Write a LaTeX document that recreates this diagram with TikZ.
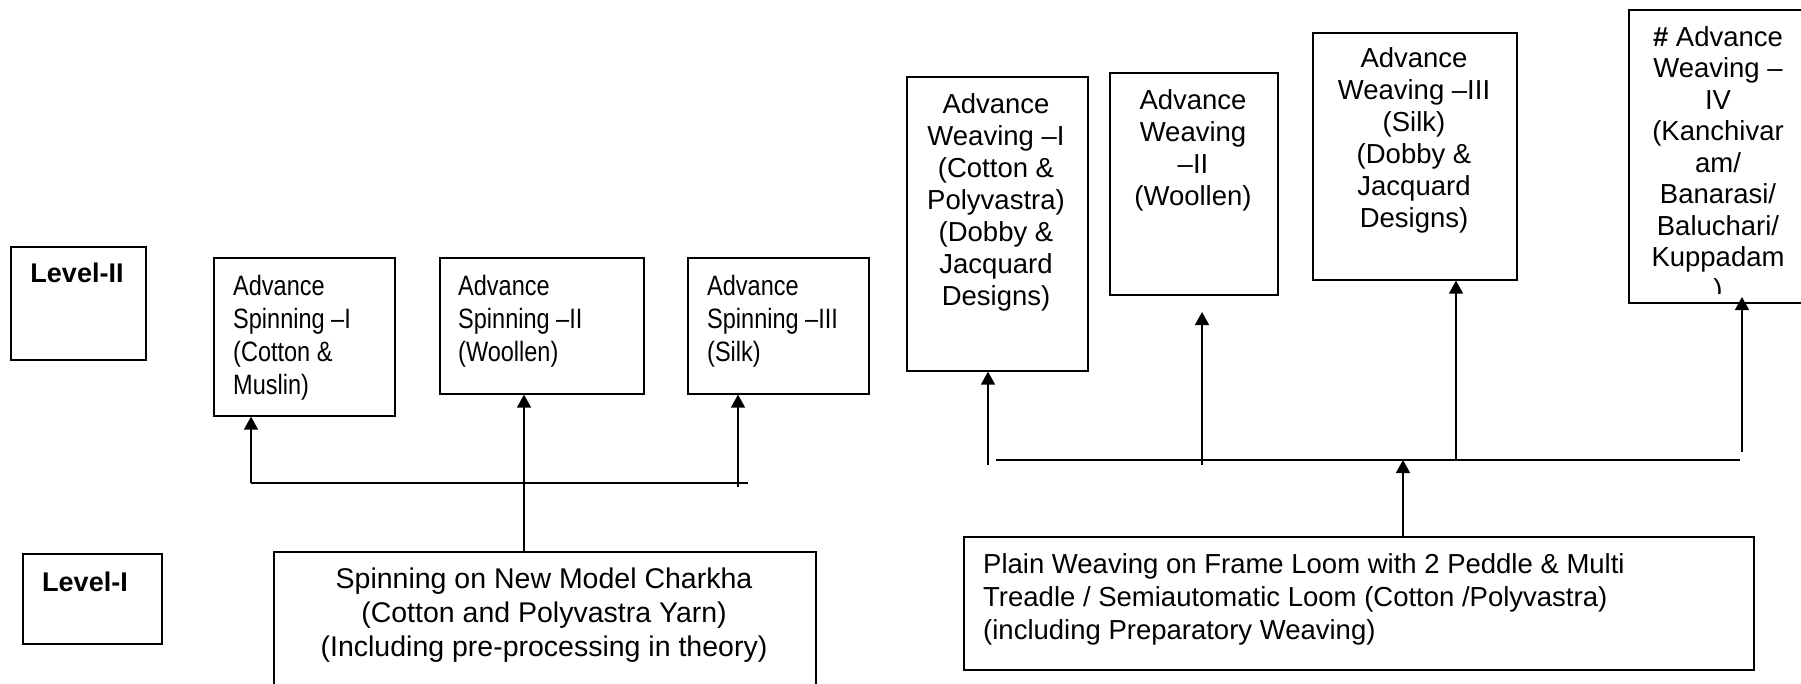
\documentclass[tikz,border=0pt]{standalone}
\usepackage{fontspec}
\setmainfont{Liberation Sans}
\newfontfamily\narrowfont{Liberation Sans}[FakeStretch=0.84]
\usetikzlibrary{arrows.meta, positioning}

\tikzset{
    box/.style={draw, line width=1.6pt, inner sep=0pt, anchor=north west},
    boxtext/.style={inner sep=0pt, font=\fontsize{27.5}{32}\selectfont},
    narrowtext/.style={inner sep=0pt, anchor=north west, align=left, font=\fontsize{28}{33}\selectfont\narrowfont},
    leveltext/.style={inner sep=0pt, anchor=north, font=\fontsize{27}{33}\selectfont\bfseries},
    arr/.style={line width=1.5pt, -{Triangle[length=13pt, width=14pt]}},
    bus/.style={line width=1.5pt},
}

\begin{document}
\begin{tikzpicture}[x=1pt, y=-1pt]
    \useasboundingbox (0,0) rectangle (1801,683);
    \clip (0,0) rectangle (1801,683);

    % Level boxes
    \node[box, minimum width=135pt, minimum height=113pt] (lvtwo) at (10,246) {};
    \node[leveltext] (lvtwotext) at (77,263) {Level-II};
    \node[box, minimum width=139pt, minimum height=90pt] (lvone) at (22,553) {};
    \node[leveltext] (lvonetext) at (85,572) {Level-I};

    % Spinning boxes
    \node[box, minimum width=181pt, minimum height=158pt] (sp1) at (213,257) {};
    \node[narrowtext] (sp1text) at (233,275) {Advance\\Spinning –I\\(Cotton \&\\Muslin)};
    \node[box, minimum width=204pt, minimum height=136pt] (sp2) at (439,257) {};
    \node[narrowtext] (sp2text) at (458,275) {Advance\\Spinning –II\\(Woollen)};
    \node[box, minimum width=181pt, minimum height=136pt] (sp3) at (687,257) {};
    \node[narrowtext] (sp3text) at (707,275) {Advance\\Spinning –III\\(Silk)};
    \node[box, minimum width=542pt, minimum height=160pt] (spmain) at (273,551) {};
    \node[boxtext, anchor=north, align=center, font=\fontsize{28.5}{34}\selectfont] (spmaintext) at (544,568)
        {Spinning on New Model Charkha\\(Cotton and Polyvastra Yarn)\\(Including pre-processing in theory)};

    % Spinning connectors
    \coordinate (spbusL) at (251,483);
    \coordinate (spbusR) at (748,483);
    \coordinate (sp2foot) at (524,553);
    \coordinate (sp3foot) at (738,487);
    \draw[bus] (spbusL) -- (spbusR);
    \draw[arr] (spbusL) -- (spbusL |- sp1.south);
    \draw[arr] (spmain.north -| sp2foot) -- (sp2foot |- sp2.south);
    \draw[arr] (sp3foot) -- (sp3foot |- sp3.south);

    % Weaving boxes
    \node[box, minimum width=181pt, minimum height=294pt] (wv1) at (906,76) {};
    \node[boxtext, anchor=north, align=center] (wv1text) at (996,93)
        {Advance\\Weaving –I\\(Cotton \&\\Polyvastra)\\(Dobby \&\\Jacquard\\Designs)};
    \node[box, minimum width=168pt, minimum height=222pt] (wv2) at (1109,72) {};
    \node[boxtext, anchor=north, align=center] (wv2text) at (1193,89)
        {Advance\\Weaving\\–II\\(Woollen)};
    \node[box, minimum width=204pt, minimum height=247pt] (wv3) at (1312,32) {};
    \node[boxtext, anchor=north, align=center] (wv3text) at (1414,47)
        {Advance\\Weaving –III\\(Silk)\\(Dobby \&\\Jacquard\\Designs)};
    \node[box, minimum width=180pt, minimum height=293pt] (wv4) at (1628,9) {};
    \begin{scope}
        \clip (1628,9) rectangle (1808,293);
        \node[boxtext, anchor=north, align=center, font=\fontsize{27.5}{31.5}\selectfont] (wv4text) at (1718,26)
            {\textbf{\#} Advance\\Weaving –\\IV\\(Kanchivar\\am/\\Banarasi/\\Baluchari/\\Kuppadam\\)};
    \end{scope}
    \node[box, minimum width=790pt, minimum height=133pt] (wvmain) at (963,536) {};
    \node[boxtext, anchor=north west, align=left, font=\fontsize{27.5}{33}\selectfont] (wvmaintext) at (983,553)
        {Plain Weaving on Frame Loom with 2 Peddle \& Multi\\Treadle / Semiautomatic Loom (Cotton /Polyvastra)\\(including Preparatory Weaving)};

    % Weaving connectors
    \coordinate (wvbusL) at (996,460);
    \coordinate (wvbusR) at (1740,460);
    \coordinate (wvhub) at (1403,460);
    \coordinate (wv1foot) at (988,465);
    \coordinate (wv2foot) at (1202,465);
    \coordinate (wv2tip) at (1202,312);
    \coordinate (wv3foot) at (1456,460);
    \coordinate (wv4foot) at (1742,452);
    \coordinate (wv4tip) at (1742,297);
    \draw[bus] (wvbusL) -- (wvbusR);
    \draw[arr] (wvmain.north -| wvhub) -- (wvhub);
    \draw[arr] (wv1foot) -- (wv1foot |- wv1.south);
    \draw[arr] (wv2foot) -- (wv2tip);
    \draw[arr] (wv3foot) -- (wv3foot |- wv3.south);
    \draw[arr] (wv4foot) -- (wv4tip);
\end{tikzpicture}
\end{document}
